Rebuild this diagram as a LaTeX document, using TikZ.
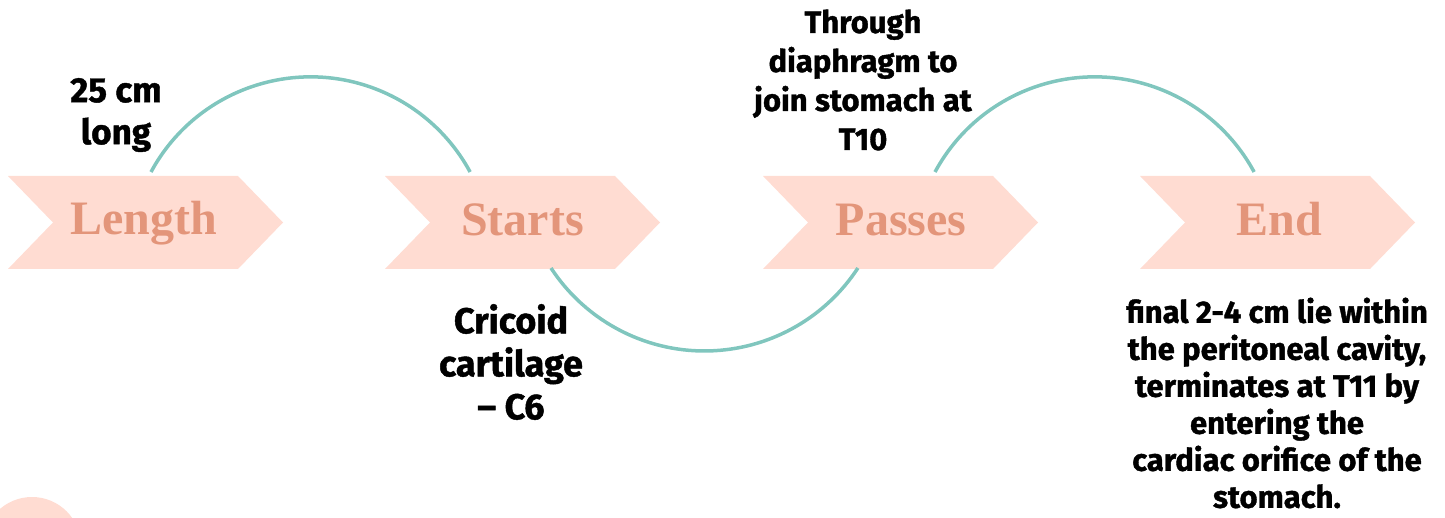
\documentclass[tikz,border=0pt]{standalone}
\usepackage{fontspec}
\setmainfont{Liberation Serif}
\newfontfamily\lblfont[BoldFeatures={FakeBold=1.2}]{Fira Sans}
\definecolor{chevfill}{HTML}{FFDCD2}
\definecolor{chevtext}{HTML}{E3957A}
\definecolor{arccol}{HTML}{80C6BE}
\begin{document}
\begin{tikzpicture}[x=1pt,y=-1pt,
  chevlabel/.style={font=\bfseries\fontsize{48}{52}\selectfont, text=chevtext, inner sep=0, anchor=base},
  lbl/.style={align=center, inner sep=0},
  link/.style={draw=arccol, line width=3.5pt}
]
\useasboundingbox (0,0) rectangle (1445,518);
\fill[chevfill] (32,546) circle[radius=49pt];
\foreach \x in {8,385,763,1140} {
  \fill[chevfill] (\x,176) -- (\x+230,176) -- (\x+275,222.5) -- (\x+230,269) -- (\x,269) -- (\x+45,222.5) -- cycle;
}
\node[chevlabel] (len) at (144,235) {Length};
\node[chevlabel] (sta) at (522.5,236) {Starts};
\node[chevlabel] (pas) at (901,236) {Passes};
\node[chevlabel] (fin) at (1279,236) {End};
\coordinate (a1) at (151,172);
\coordinate (a2) at (551,268);
\coordinate (a3) at (935,172);
\draw[link] (a1) arc[start angle=151.6, end angle=28.4, radius=181.4pt];
\draw[link] (a2) arc[start angle=213.2, end angle=326.8, radius=183.4pt];
\draw[link] (a3) arc[start angle=151.6, end angle=28.4, radius=181.4pt];
\node[lbl, font=\lblfont\bfseries\fontsize{35}{42}\selectfont] (l1) at (116,115) {25 cm\\long};
\node[lbl, font=\lblfont\bfseries\fontsize{31}{39}\selectfont] (l2) at (863,80) {Through\\diaphragm to\\join stomach at\\T10};
\node[lbl, font=\lblfont\bfseries\fontsize{36}{43}\selectfont] (l3) at (511,362) {Cricoid\\cartilage\\– C6};
\node[lbl, font=\lblfont\bfseries\fontsize{31}{37}\selectfont] (l4) at (1277,403) {final 2-4 cm lie within\\the peritoneal cavity,\\terminates at T11 by\\entering the\\cardiac orifice of the\\stomach.};
\end{tikzpicture}
\end{document}
